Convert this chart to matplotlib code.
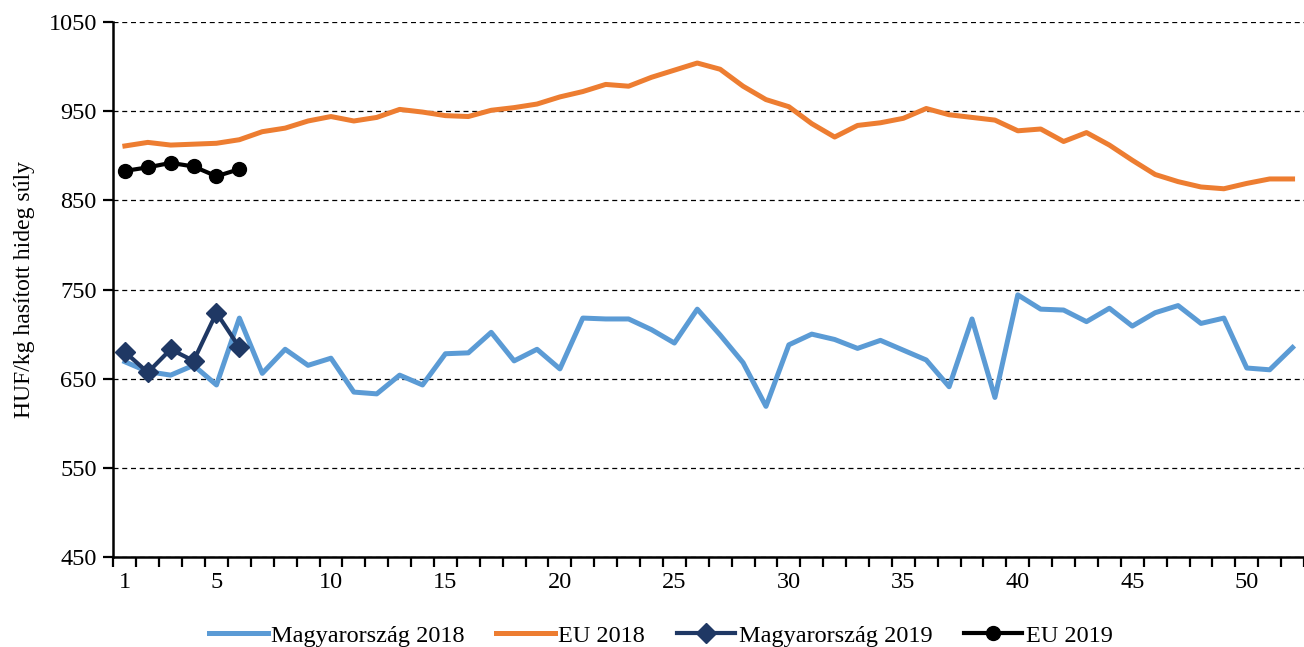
import numpy as np
import matplotlib
matplotlib.use("Agg")
import matplotlib.pyplot as plt
from matplotlib.ticker import FixedLocator

# ─────────────────────────────────────────────
# Data (HUF/kg, weeks 1-52)
# ─────────────────────────────────────────────
weeks_2018 = list(range(1, 53))
weeks_2019 = list(range(1, 7))

hu_2018 = [669, 658, 654, 665, 643, 718, 656, 683, 665, 673,
           635, 633, 654, 643, 678, 679, 702, 670, 683, 661,
           718, 717, 717, 705, 690, 728, 699, 668, 619, 688,
           700, 694, 684, 693, 682, 671, 641, 717, 629, 744,
           728, 727, 714, 729, 709, 724, 732, 712, 718, 662,
           660, 685]

eu_2018 = [911, 915, 912, 913, 914, 918, 927, 931, 939, 944,
           939, 943, 952, 949, 945, 944, 951, 954, 958, 966,
           972, 980, 978, 988, 996, 1004, 997, 978, 963, 955,
           936, 921, 934, 937, 942, 953, 946, 943, 940, 928,
           930, 916, 926, 912, 895, 879, 871, 865, 863, 869,
           874, 874]

hu_2019 = [680, 657, 683, 670, 724, 685]
eu_2019 = [883, 887, 892, 888, 877, 885]

y_ticks = [450, 550, 650, 750, 850, 950, 1050]
x_labels = [1, 5, 10, 15, 20, 25, 30, 35, 40, 45, 50]

# ─────────────────────────────────────────────
# Plot
# ─────────────────────────────────────────────
plt.rcParams['font.family'] = ['Liberation Serif', 'DejaVu Serif']

fig = plt.figure(figsize=(13.04, 6.47), dpi=100)
ax = fig.add_axes([0.087, 0.139, 0.913, 0.827])

ax.plot(weeks_2018, hu_2018, color='#5B9BD5', lw=3.6, label='Magyarország 2018', zorder=3)
ax.plot(weeks_2018, eu_2018, color='#ED7D31', lw=3.6, label='EU 2018', zorder=3)
ax.plot(weeks_2019, hu_2019, color='#1F3864', lw=3.0, marker='D', ms=10,
        label='Magyarország 2019', zorder=4)
ax.plot(weeks_2019, eu_2019, color='black', lw=3.0, marker='o', ms=10,
        label='EU 2019', zorder=4)

ax.set_xlim(0.5, 52.5)
ax.set_ylim(450, 1050)

ax.set_yticks(y_ticks)
ax.yaxis.grid(True, color='black', ls=(0, (4, 3)), lw=0.9)
ax.set_axisbelow(True)

# category axis: ticks between weeks, labels only on some
ax.xaxis.set_major_locator(FixedLocator(x_labels))
ax.xaxis.set_minor_locator(FixedLocator(np.arange(0.5, 53, 1)))
ax.tick_params(axis='x', which='major', length=0, pad=11, labelsize=17.5)
ax.tick_params(axis='x', which='minor', length=7, width=1.6, direction='out')
ax.tick_params(axis='y', which='major', length=7, width=1.6, labelsize=17.5, pad=5)

for side in ['top', 'right']:
    ax.spines[side].set_visible(False)
for side in ['left', 'bottom']:
    ax.spines[side].set_linewidth(1.8)

ax.set_ylabel('HUF/kg hasított hideg súly', fontsize=17, labelpad=10)

ax.legend(loc='upper center', bbox_to_anchor=(0.46, -0.086), ncol=4,
          frameon=False, fontsize=17.5, handlelength=2.4, handletextpad=0.15,
          columnspacing=1.3)

plt.savefig('out.png', dpi=100)
